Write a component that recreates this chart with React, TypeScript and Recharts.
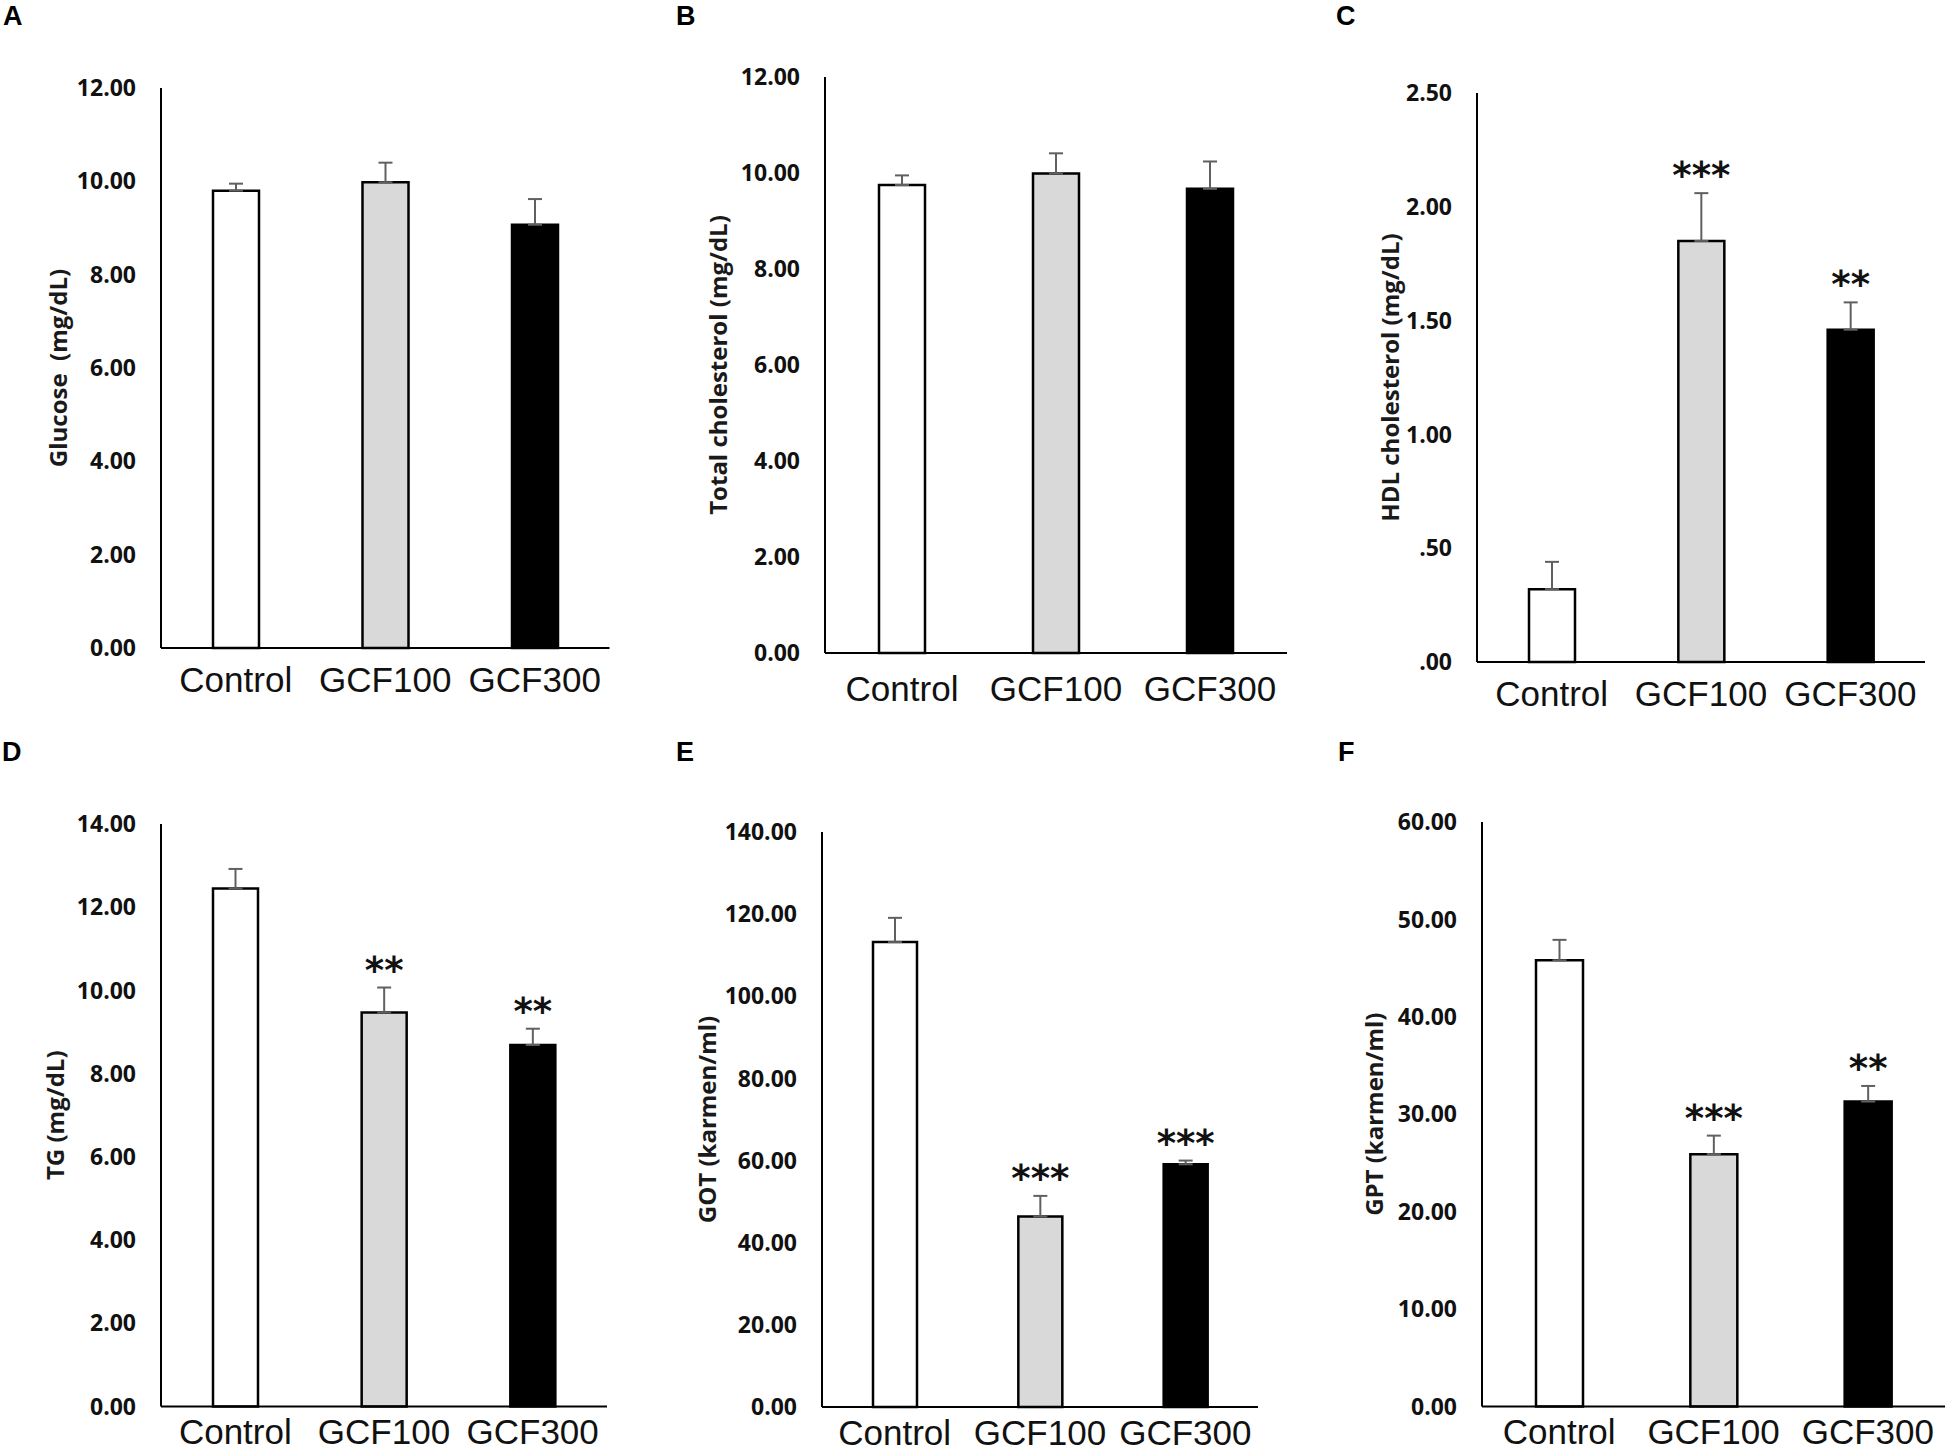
import React from 'react';
import { BarChart, Bar, XAxis, YAxis, Cell, ErrorBar, LabelList, Label } from 'recharts';

const groups = ['Control', 'GCF100', 'GCF300'];
const groupFills = ['#ffffff', '#d9d9d9', '#000000'];

// A - glucose
const glucose = [9.8, 9.98, 9.07];
const glucoseSem = [0.15, 0.42, 0.55];
const glucoseSig = ['', '', ''];
const glucoseTicks = [0, 2, 4, 6, 8, 10, 12];

// B - total cholesterol
const totalChol = [9.75, 9.99, 9.67];
const totalCholSem = [0.2, 0.42, 0.57];
const totalCholSig = ['', '', ''];
const totalCholTicks = [0, 2, 4, 6, 8, 10, 12];

// C - HDL cholesterol
const hdl = [0.32, 1.85, 1.46];
const hdlSem = [0.12, 0.21, 0.12];
const hdlSig = ['', '***', '**'];
const hdlTicks = [0, 0.5, 1, 1.5, 2, 2.5];

// D - TG
const tg = [12.45, 9.47, 8.69];
const tgSem = [0.47, 0.6, 0.39];
const tgSig = ['', '**', '**'];
const tgTicks = [0, 2, 4, 6, 8, 10, 12, 14];

// E - GOT
const got = [113.2, 46.4, 59.1];
const gotSem = [5.9, 5.0, 0.9];
const gotSig = ['', '***', '***'];
const gotTicks = [0, 20, 40, 60, 80, 100, 120, 140];

// F - GPT
const gpt = [45.8, 25.9, 31.3];
const gptSem = [2.1, 1.9, 1.6];
const gptSig = ['', '***', '**'];
const gptTicks = [0, 10, 20, 30, 40, 50, 60];

const fmtFixed = (v: number) => v.toFixed(2);
const fmtNoZero = (v: number) => (v < 1 ? v.toFixed(2).replace(/^0/, '') : v.toFixed(2));

// layout of each panel (pixel geometry of the plot area)
const panels = [
  { id: 'A', title: 'Glucose  (mg/dL)', values: glucose, sem: glucoseSem, sig: glucoseSig, ticks: glucoseTicks, fmt: fmtFixed,
    left: 160.5, top: 88, right: 609, bottom: 648, titleDist: 104, xGap: 19, barSize: 46, lx: 3, ly: 26 },
  { id: 'B', title: 'Total cholesterol (mg/dL)', values: totalChol, sem: totalCholSem, sig: totalCholSig, ticks: totalCholTicks, fmt: fmtFixed,
    left: 825, top: 77, right: 1287, bottom: 653, titleDist: 108, xGap: 23, barSize: 46, lx: 676, ly: 26 },
  { id: 'C', title: 'HDL cholesterol (mg/dL)', values: hdl, sem: hdlSem, sig: hdlSig, ticks: hdlTicks, fmt: fmtNoZero,
    left: 1477, top: 92.5, right: 1925, bottom: 661.5, titleDist: 88, xGap: 19, barSize: 46, lx: 1336, ly: 26 },
  { id: 'D', title: 'TG (mg/dL)', values: tg, sem: tgSem, sig: tgSig, ticks: tgTicks, fmt: fmtFixed,
    left: 161, top: 823.5, right: 607, bottom: 1406, titleDist: 107, xGap: 13, barSize: 45, lx: 2, ly: 762 },
  { id: 'E', title: 'GOT (karmen/ml)', values: got, sem: gotSem, sig: gotSig, ticks: gotTicks, fmt: fmtFixed,
    left: 822, top: 832, right: 1258, bottom: 1407, titleDist: 116, xGap: 13, barSize: 44, lx: 676, ly: 762 },
  { id: 'F', title: 'GPT (karmen/ml)', values: gpt, sem: gptSem, sig: gptSig, ticks: gptTicks, fmt: fmtFixed,
    left: 1482, top: 821.6, right: 1945, bottom: 1406, titleDist: 108, xGap: 13, barSize: 47, lx: 1338, ly: 762 },
];

const YW = 150;
const MT = 30;
const MR = 6;
const XH = 60;
const boldFont = "'Open Sans', 'DejaVu Sans', sans-serif";
const tickFont = { fill: '#111', fontSize: 23, fontFamily: boldFont, fontWeight: 700 };

function Panel({ p }: { p: any }) {
  const rows = groups.map((g, i) => ({ name: g, value: p.values[i], sem: [0, p.sem[i]], sig: p.sig[i] }));
  const width = YW + (p.right - p.left) + MR;
  const height = MT + (p.bottom - p.top) + XH;

  const renderTitle = (props: any) => {
    const vb = props.viewBox;
    const x = vb.x + vb.width - p.titleDist;
    const y = vb.y + vb.height / 2;
    return (
      <text x={x} y={y} transform={`rotate(-90, ${x}, ${y})`} textAnchor="middle" dominantBaseline="central"
        fontFamily={boldFont} fontWeight={700} fontSize={24} fill="#1a1a1a" style={{ whiteSpace: 'pre' }}>
        {p.title}
      </text>
    );
  };

  const renderStars = (props: any) => {
    const i = props.index;
    const r = rows[i];
    if (!r || !r.sig) return null;
    const vb = props.viewBox || props;
    const h = Math.abs(vb.height);
    const top = Math.min(vb.y, vb.y + vb.height);
    const errPx = r.value ? (r.sem[1] / r.value) * h : 0;
    const cy = top - errPx - 26;
    return (
      <text x={vb.x + vb.width / 2} y={cy + 21} textAnchor="middle" fontFamily="DejaVu Sans" fontWeight={700} fontSize={37} fill="#111">
        {r.sig}
      </text>
    );
  };

  return (
    <div style={{ position: 'absolute', left: p.left - YW, top: p.top - MT, width, height }}>
      <BarChart width={width} height={height} data={rows} margin={{ top: MT, right: MR, bottom: 0, left: 0 }}>
        <XAxis dataKey="name" height={XH} tickSize={0} tickMargin={p.xGap} interval={0}
          axisLine={{ stroke: '#000', strokeWidth: 2 }}
          tick={{ fill: '#111', fontSize: 35, fontFamily: 'Liberation Sans' }} />
        <YAxis width={YW} domain={[0, p.ticks[p.ticks.length - 1]]} ticks={p.ticks} tickFormatter={p.fmt}
          tickSize={0} tickMargin={25} interval={0} axisLine={{ stroke: '#000', strokeWidth: 2 }} tick={tickFont}>
          <Label content={renderTitle} />
        </YAxis>
        <Bar dataKey="value" barSize={p.barSize} stroke="#000" strokeWidth={2.5} isAnimationActive={false}>
          {rows.map((r, i) => (
            <Cell key={r.name} fill={groupFills[i]} />
          ))}
          <ErrorBar dataKey="sem" direction="y" width={7} stroke="#606060" strokeWidth={2} />
          <LabelList dataKey="sig" content={renderStars} />
        </Bar>
      </BarChart>
    </div>
  );
}

export default function App() {
  return (
    <div style={{ position: 'absolute', left: 0, top: 0, width: 1950, height: 1451, background: '#fff', overflow: 'hidden' }}>
      {panels.map((p) => (
        <div key={'l' + p.id} style={{ position: 'absolute', left: p.lx, top: p.ly - 25, fontFamily: 'Liberation Sans', fontWeight: 700, fontSize: 27, lineHeight: '30px', color: '#000' }}>
          {p.id}
        </div>
      ))}
      {panels.map((p) => (
        <Panel key={p.id} p={p} />
      ))}
    </div>
  );
}
